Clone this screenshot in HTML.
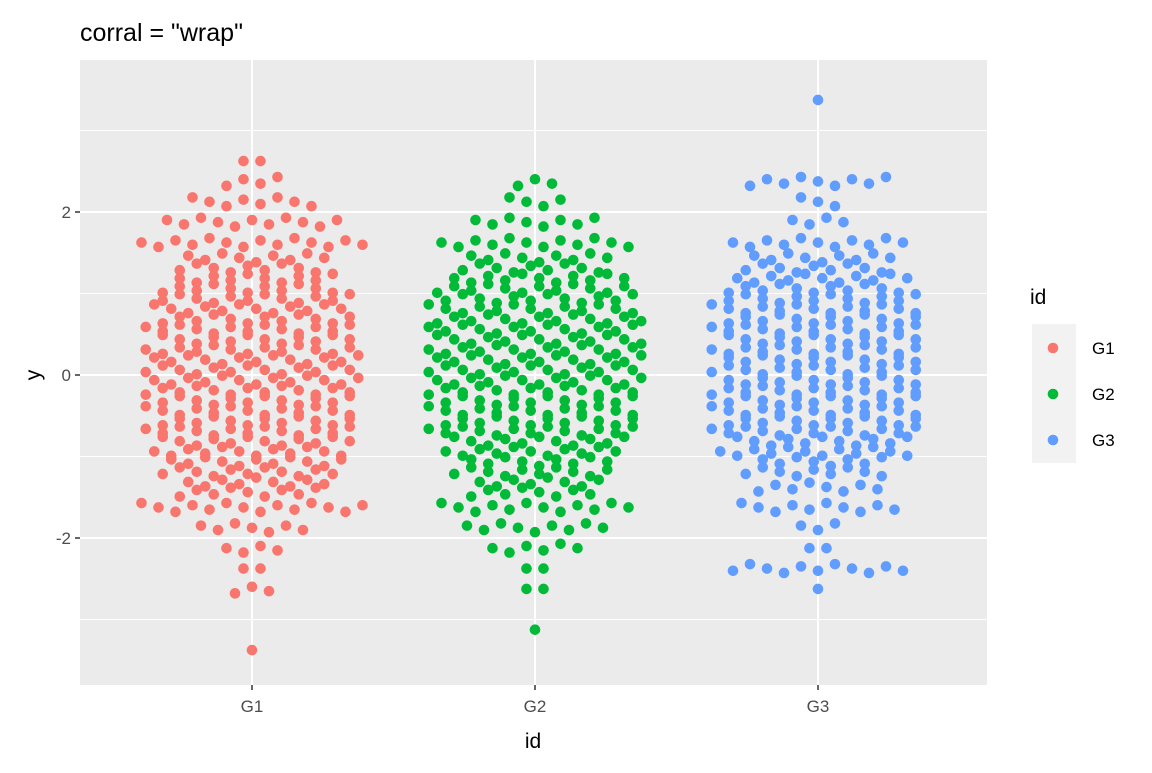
<!DOCTYPE html>
<html><head><meta charset="utf-8"><style>
body{margin:0;background:#fff;}
svg text{font-family:"Liberation Sans",Arial,sans-serif;}
</style></head><body>
<svg id="chart" width="1152" height="768" xmlns="http://www.w3.org/2000/svg">
<text x="80" y="41" font-size="25" fill="#000">corral = "wrap"</text>
<rect x="80" y="60" width="907" height="625" fill="#EBEBEB"/>
<g id="grid"></g>
<g id="points"></g>
<g id="axes"></g>
<text x="533" y="748" font-size="21" text-anchor="middle">id</text>
<text x="40" y="375" font-size="21" text-anchor="middle" transform="rotate(-90 40 375)">y</text>
<g>
<text x="1030" y="304" font-size="21">id</text>
<rect x="1032" y="324" width="44" height="139" fill="#F2F2F2"/>
<g id="legend"></g>
</g>
</svg>
<script>
const groups = ["G1","G2","G3"];
const colors = ["#F8766D","#00BA38","#619CFF"];
const yTicks = [-2,0,2];
const yMinor = [-3,-1,1,3];
const binLow = [3.25,3.0,2.75,2.5,2.25,2.0,1.75,1.5,1.25,1.0,0.75,0.5,0.25,0,-0.25,-0.5,-0.75,-1.0,-1.25,-1.5,-1.75,-2.0,-2.25,-2.5,-2.75,-3.0,-3.25,-3.5];
const countsG1 = [0,0,0,2,4,8,11,14,18,21,24,25,25,26,26,25,25,24,22,18,14,7,4,2,3,0,0,1];
const countsG2 = [0,0,0,0,3,4,8,12,18,23,25,26,26,26,26,25,25,22,19,16,12,9,6,2,2,0,1,0];
const countsG3 = [1,0,0,0,9,3,4,11,18,22,25,25,25,25,25,25,25,23,17,8,10,3,2,11,1,0,0,0];
const allCounts = [countsG1,countsG2,countsG3];
const binWidth = 0.25;

const NS="http://www.w3.org/2000/svg";
const yScale = v => 375 - v*81.5;
const xScale = i => 252 + i*283;
function mk(tag, attrs, parent){const e=document.createElementNS(NS,tag);for(const k in attrs)e.setAttribute(k,attrs[k]);parent.appendChild(e);return e;}
const grid=document.getElementById('grid'), pts=document.getElementById('points'), axes=document.getElementById('axes'), leg=document.getElementById('legend');

yMinor.forEach(v=>{const l=mk('line',{x1:80,x2:987,y1:yScale(v),y2:yScale(v),stroke:'#fff','stroke-width':1},grid);

});
yTicks.forEach(v=>{const l=mk('line',{x1:80,x2:987,y1:yScale(v),y2:yScale(v),stroke:'#fff','stroke-width':2},grid);


const tk=mk('line',{x1:75,x2:80,y1:yScale(v),y2:yScale(v),stroke:'#333','stroke-width':1.5},axes);


const t=mk('text',{x:71,y:yScale(v)+6,'font-size':17,'text-anchor':'end',fill:'#4D4D4D'},axes);t.textContent=v;

});
groups.forEach((g,i)=>{const l=mk('line',{x1:xScale(i),x2:xScale(i),y1:60,y2:685,stroke:'#fff','stroke-width':2},grid);


const tk=mk('line',{x1:xScale(i),x2:xScale(i),y1:685,y2:690,stroke:'#333','stroke-width':1.5},axes);


const t=mk('text',{x:xScale(i),y:712,'font-size':17,'text-anchor':'middle',fill:'#4D4D4D'},axes);t.textContent=g;

});

allCounts.forEach((counts,gi)=>{
  const cx=xScale(gi);
  counts.forEach((k,bi)=>{
    if(!k) return;
    const rows=Math.ceil(k/14);
    let left=k;
    for(let r=0;r<rows;r++){
      const n=Math.ceil(left/(rows-r)); left-=n;
      const yv=binLow[bi]+(r+0.5)*binWidth/rows;
      const sp=Math.min(17, n>1?250/(n-1):17);
      const off=(r%2)*sp*0.5 - (rows>1?sp*0.25:0);
      for(let j=0;j<n;j++){
        let x=cx+(j-(n-1)/2)*sp+(n>1?off:0);
        x=Math.max(cx-127,Math.min(cx+127,x));
        const dy=((j*7+r*3+bi)%5-2)*2.2;
        const c=mk('circle',{cx:x,cy:yScale(yv)+(n>2?dy:0),r:5.3,fill:colors[gi]},pts);
        
        
      }
    }
  });
});

groups.forEach((g,i)=>{const y=348+i*46;
const c=mk('circle',{cx:1053,cy:y,r:5.3,fill:colors[i]},leg);


const t=mk('text',{x:1092,y:y+6,'font-size':17},leg);t.textContent=g;

});
</script>
</body></html>
